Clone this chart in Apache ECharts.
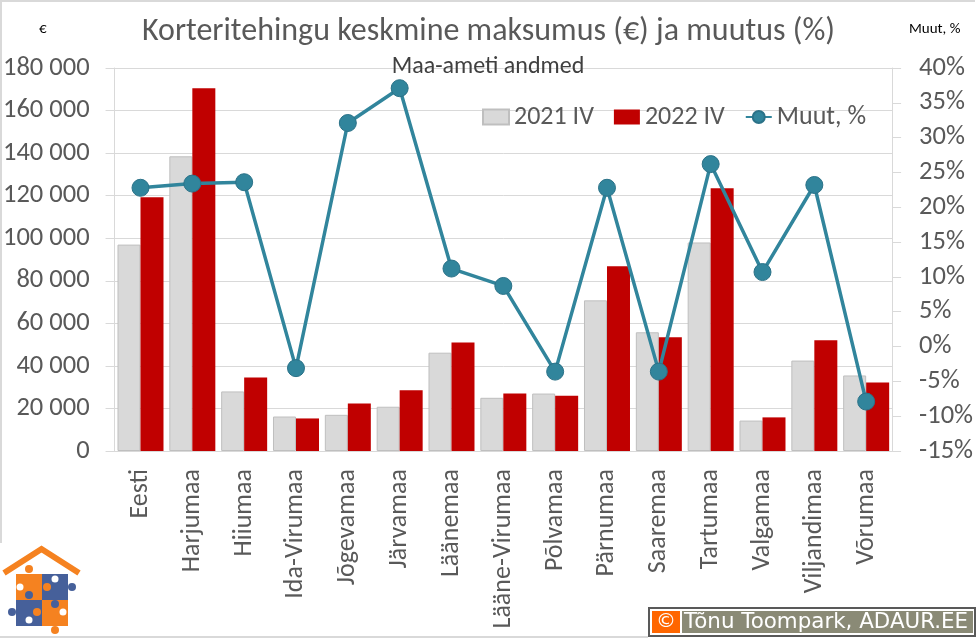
<!DOCTYPE html>
<html>
<head>
<meta charset="utf-8">
<style>html,body{margin:0;padding:0;background:#fff}#chart{width:976px;height:638px}</style>
<script src="https://cdn.jsdelivr.net/npm/echarts@6/dist/echarts.min.js"></script>
</head>
<body>
<div id="chart"></div>
<script>
const categories = ['Eesti','Harjumaa','Hiiumaa','Ida-Virumaa','Jõgevamaa','Järvamaa','Läänemaa','Lääne-Virumaa','Põlvamaa','Pärnumaa','Saaremaa','Tartumaa','Valgamaa','Viljandimaa','Võrumaa'];
const values2021 = [97000,138500,28000,16200,17000,20800,46200,25000,27000,70800,55800,98000,14300,42500,35500];
const values2022 = [119200,170500,34500,15300,22300,28500,51000,27000,26000,86800,53500,123500,15800,52000,32200];
const change = [22.8,23.4,23.6,-3.1,32.1,37.1,11.2,8.7,-3.6,22.8,-3.6,26.2,10.7,23.2,-7.9];

const grey = '#595959';
const gridGrey = '#d9d9d9';
const orange = '#f58220';
const blue = '#46609a';
const font = 'Carlito, "Open Sans", "Noto Sans", sans-serif';

const chart = echarts.init(document.getElementById('chart'));
chart.setOption({
  animation: false,
  backgroundColor: '#fff',
  textStyle: {fontFamily: font},
  title: [
    {text: 'Korteritehingu keskmine maksumus (€) ja muutus (%)', left: 483.5, top: 11, textAlign: 'center',
      textStyle: {fontSize: 32, fontWeight: 'normal', color: grey, fontFamily: font}},
    {text: 'Maa-ameti andmed', left: 483, top: 50, textAlign: 'center',
      textStyle: {fontSize: 24, fontWeight: 'normal', color: '#404040', fontFamily: font}},
    {text: '€', left: 34, top: 17, textStyle: {fontSize: 15, fontWeight: 'normal', color: '#000', fontFamily: font}},
    {text: 'Muut, %', left: 904, top: 17, textStyle: {fontSize: 15, fontWeight: 'normal', color: '#000', fontFamily: font}}
  ],
  legend: {
    left: 477, top: 99, itemWidth: 26, itemHeight: 15, itemGap: 20,
    textStyle: {fontSize: 26, color: grey, fontFamily: font},
    data: [
      {name: '2021 IV', icon: 'rect'},
      {name: '2022 IV', icon: 'rect'},
      {name: 'Muut, %'}
    ]
  },
  grid: {left: 113.5, right: 82.5, top: 68, bottom: 187},
  xAxis: {
    type: 'category', data: categories,
    axisTick: {show: false},
    axisLine: {lineStyle: {color: gridGrey, width: 1}},
    axisLabel: {rotate: 90, fontSize: 26, color: grey, fontFamily: font, margin: 18, interval: 0, padding: [4, 0, 0, 0]}
  },
  yAxis: [
    {type: 'value', min: 0, max: 180000, interval: 20000,
      axisLine: {show: true, lineStyle: {color: gridGrey, width: 1}},
      axisTick: {show: true, length: 9, lineStyle: {color: gridGrey, width: 1}},
      splitLine: {lineStyle: {color: gridGrey, width: 1}},
      axisLabel: {fontSize: 26.5, color: grey, fontFamily: font, margin: 25, padding: [2, 0, 0, 0],
        formatter: v => String(v).replace(/\B(?=(\d{3})+$)/g, ' ')}},
    {type: 'value', min: -15, max: 40, interval: 5, position: 'right',
      axisLine: {show: true, lineStyle: {color: gridGrey, width: 1}},
      axisTick: {show: true, length: 9, lineStyle: {color: gridGrey, width: 1}},
      splitLine: {show: false},
      axisLabel: {fontSize: 26.5, color: grey, fontFamily: font, margin: 27, padding: [2, 0, 0, 0], formatter: '{value}%'}}
  ],
  series: [
    {name: '2021 IV', type: 'bar', data: values2021, barWidth: 23, barGap: '0%',
      itemStyle: {color: gridGrey, borderColor: '#bfbfbf', borderWidth: 1}},
    {name: '2022 IV', type: 'bar', data: values2022, barWidth: 23,
      itemStyle: {color: '#c00000'}},
    {name: 'Muut, %', type: 'line', yAxisIndex: 1, data: change, symbol: 'circle', symbolSize: 17,
      lineStyle: {color: '#31859c', width: 3.5},
      itemStyle: {color: '#31859c', borderColor: '#2b7288', borderWidth: 1}}
  ],
  graphic: [
    // autori märgis
    {type: 'rect', shape: {x: 649, y: 608, width: 326, height: 28}, style: {fill: '#fff', stroke: '#595959', lineWidth: 2}},
    {type: 'rect', shape: {x: 652, y: 611, width: 28, height: 22}, style: {fill: '#ff6600'}},
    {type: 'rect', shape: {x: 682, y: 611, width: 291, height: 22}, style: {fill: '#8a8a76'}},
    {type: 'text', x: 666, y: 622, style: {text: '©', fill: '#fff', fontSize: 20, fontFamily: 'DejaVu Sans', align: 'center', verticalAlign: 'middle'}},
    {type: 'text', x: 684, y: 622, style: {text: 'Tõnu Toompark, ADAUR.EE', fill: '#fff', fontSize: 21.4, fontFamily: 'DejaVu Sans', verticalAlign: 'middle'}},
    // logo
    {type: 'polyline', shape: {points: [[4, 573], [41.5, 549], [79, 573]]}, style: {stroke: orange, lineWidth: 6, fill: 'none'}},
    {type: 'rect', shape: {x: 16, y: 574, width: 26, height: 26}, style: {fill: orange}},
    {type: 'rect', shape: {x: 42, y: 574, width: 26, height: 26}, style: {fill: blue}},
    {type: 'rect', shape: {x: 16, y: 600, width: 26, height: 26}, style: {fill: blue}},
    {type: 'rect', shape: {x: 42, y: 600, width: 26, height: 26}, style: {fill: orange}},
    {type: 'circle', shape: {cx: 29, cy: 569, r: 4}, style: {fill: orange}},
    {type: 'circle', shape: {cx: 72, cy: 587, r: 4}, style: {fill: blue}},
    {type: 'circle', shape: {cx: 12, cy: 612, r: 4}, style: {fill: blue}},
    {type: 'circle', shape: {cx: 55, cy: 630, r: 4}, style: {fill: orange}},
    {type: 'circle', shape: {cx: 47, cy: 587, r: 4}, style: {fill: orange}},
    {type: 'circle', shape: {cx: 29, cy: 595, r: 4}, style: {fill: blue}},
    {type: 'circle', shape: {cx: 55, cy: 604, r: 4}, style: {fill: blue}},
    {type: 'circle', shape: {cx: 37, cy: 612, r: 4}, style: {fill: orange}},
    {type: 'circle', shape: {cx: 55, cy: 579, r: 3.5}, style: {fill: '#fff'}},
    {type: 'circle', shape: {cx: 20, cy: 587, r: 3.5}, style: {fill: '#fff'}},
    {type: 'circle', shape: {cx: 63, cy: 612, r: 3.5}, style: {fill: '#fff'}},
    {type: 'circle', shape: {cx: 29, cy: 620, r: 3.5}, style: {fill: '#fff'}},
    // raam
    {type: 'polyline', shape: {points: [[1, 543], [1, 1], [975, 1]]}, style: {stroke: gridGrey, lineWidth: 2, fill: 'none'}},
    {type: 'polyline', shape: {points: [[0, 637], [648, 637]]}, style: {stroke: gridGrey, lineWidth: 2, fill: 'none'}}
  ]
});
</script>
</body>
</html>
